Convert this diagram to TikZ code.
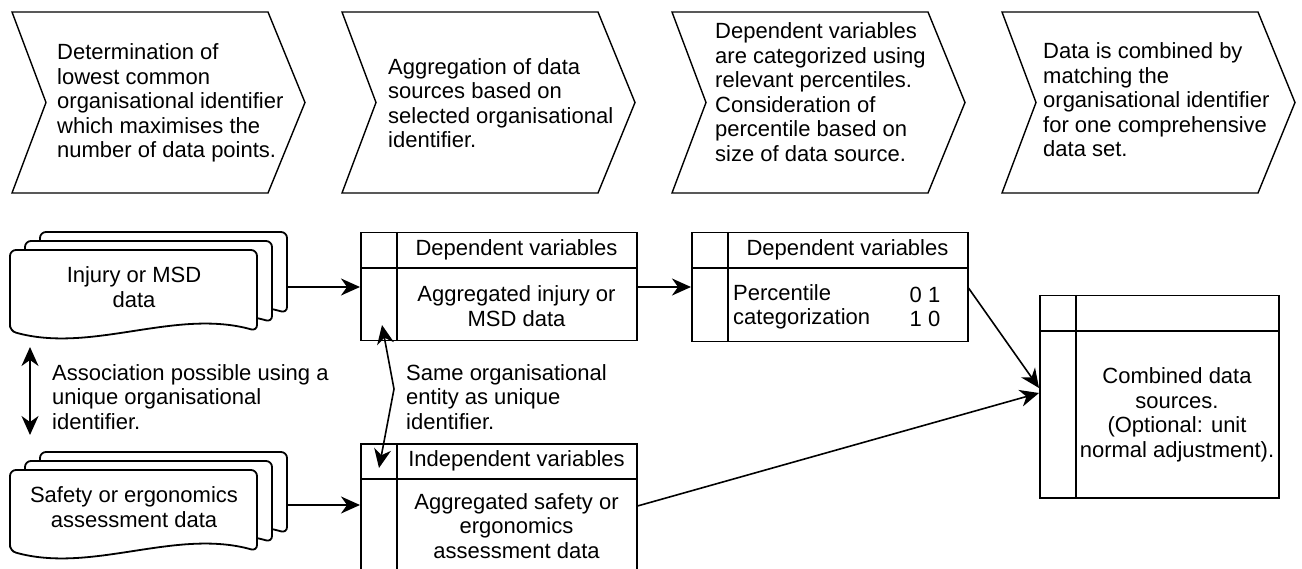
\documentclass[tikz,border=0pt]{standalone}
\usepackage{fontspec}
\setmainfont{Liberation Sans}
\usepackage{tikz}
\usetikzlibrary{arrows.meta, positioning, calc}

% one sheet of a stacked document, top left corner at (#1,#2)
\newcommand{\docpage}[2]{%
  \draw[docline] (#1,#2+81) -- (#1,#2) -- (#1+247,#2) -- (#1+247,#2+81)
    .. controls (#1+165,#2+58) and (#1+82,#2+104) .. (#1,#2+81) -- cycle;}

% header rule and side column of a table box
\newcommand{\tblgrid}[1]{%
  \draw[tblrule] ([yshift=-36pt]#1.north west) -- ([yshift=-36pt]#1.north east);
  \draw[tblrule] ([xshift=37pt]#1.north west) -- ([xshift=37pt]#1.south west);}

\begin{document}
\begin{tikzpicture}[x=1pt, y=-1pt,
  every node/.style={font=\fontsize{22}{24.5}\selectfont, inner sep=0pt},
  chev/.style={draw, line width=1.4pt},
  steptext/.style={anchor=west, align=left},
  docline/.style={draw, fill=white, line width=1.8pt, rounded corners=6pt},
  tbl/.style={draw, line width=1.5pt, anchor=north west},
  tblrule/.style={line width=1.5pt},
  tip/.style={Stealth[length=19pt, width=17pt, inset=6pt]},
  conn/.style={line width=1.6pt, -{Stealth[length=19pt, width=17pt, inset=6pt]}},
  biconn/.style={line width=1.6pt, {Stealth[length=19pt, width=17pt, inset=6pt]}-{Stealth[length=19pt, width=17pt, inset=6pt]}},
]

\useasboundingbox (0,0) rectangle (1302,569);
\clip (0,0) rectangle (1302,569);

% process chevrons
\foreach \cx in {12,342,672,1002}
  \draw[chev] (\cx,12) -- ++(256,0) -- ++(37,90.5) -- ++(-37,90.5) -- ++(-256,0) -- ++(34,-90.5) -- cycle;

\node[steptext] (step1) at (57,103) {Determination of\\lowest common\\organisational identifier\\which maximises the\\number of data points.};
\node[steptext] (step2) at (388,103) {Aggregation of data\\sources based on\\selected organisational\\identifier.};
\node[steptext] (step3) at (715,92) {Dependent variables\\are categorized using\\relevant percentiles.\\Consideration of\\percentile based on\\size of data source.};
\node[steptext] (step4) at (1043,100) {Data is combined by\\matching the\\organisational identifier\\for one comprehensive\\data set.};

% data sources
\docpage{40}{232} \docpage{25}{241} \docpage{10}{250}
\docpage{40}{452} \docpage{25}{461} \docpage{10}{470}
\node[align=center] (injury) at (134,287) {Injury or MSD\\data};
\node[align=center] (safety) at (134,507) {Safety or ergonomics\\assessment data};
\coordinate (injuryout) at (287,287);
\coordinate (safetyout) at (287,505);

% tables
\node[tbl, minimum width=276pt, minimum height=108pt] (deptbl) at (360,232) {};
\tblgrid{deptbl}
\node (dephead) at (516.5,250) {Dependent variables};
\node[align=center] (depagg) at (516.5,306) {Aggregated injury or\\MSD data};

\node[tbl, minimum width=276pt, minimum height=109pt] (pcttbl) at (691,232) {};
\tblgrid{pcttbl}
\node (pcthead) at (847.5,250) {Dependent variables};
\node[anchor=west, align=left] (pctcat) at (733,307) {Percentile\\categorization};
\node[align=center] (pctbin) at (925,307) {0 1\\1 0};

\node[tbl, minimum width=276pt, minimum height=130pt] (indtbl) at (360,443) {};
\tblgrid{indtbl}
\node (indhead) at (516.5,461) {Independent variables};
\node[align=center] (indagg) at (516.5,526) {Aggregated safety or\\ergonomics\\assessment data};

\node[tbl, minimum width=239pt, minimum height=202pt] (combtbl) at (1039,295) {};
\tblgrid{combtbl}
\node[align=center] (comb) at (1177,415) {Combined data\\sources.\\(Optional: unit\\normal adjustment).};

% connectors
\draw[conn] (injuryout) -- (injuryout -| deptbl.west);
\draw[conn] (safetyout) -- (safetyout -| indtbl.west);
\draw[conn] (deptbl.east |- injuryout) -- (pcttbl.west |- injuryout);
\draw[conn] ($(pcttbl.north east)+(0,56)$) -- ($(combtbl.north west)+(0,93)$);
\draw[conn] ($(indtbl.north east)+(0,63)$) -- ($(combtbl.north west)+(0,98)$);

\coordinate (assoctop) at (30,347);
\coordinate (assocbot) at (30,435);
\draw[biconn] (assoctop) -- (assocbot);
\node[anchor=west, align=left] (assoclbl) at (52,397) {Association possible using a\\unique organisational\\identifier.};

\coordinate (sametop) at (382,325);
\coordinate (samebend) at (394,389);
\coordinate (samebot) at (379,468);
\draw[biconn] (sametop) -- (samebend) -- (samebot);
\node[anchor=west, align=left] (samelbl) at (406,397) {Same organisational\\entity as unique\\identifier.};

\end{tikzpicture}
\end{document}
